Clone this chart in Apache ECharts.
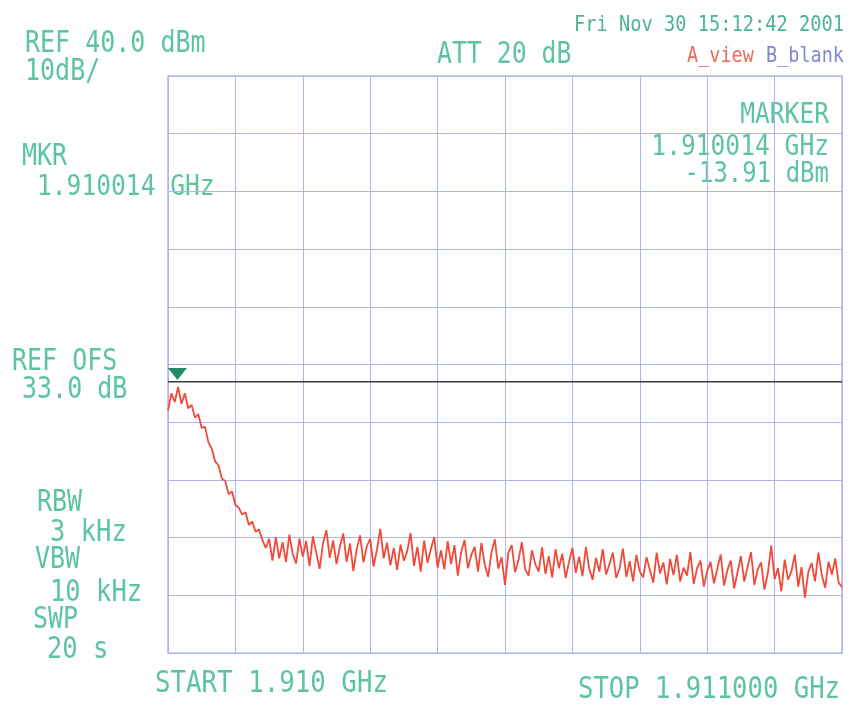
<!DOCTYPE html>
<html>
<head>
<meta charset="utf-8">
<script src="https://cdn.jsdelivr.net/npm/echarts@6/dist/echarts.min.js"></script>
<style>
html,body{margin:0;padding:0;background:#fff;}
#chart{width:850px;height:706px;}
</style>
</head>
<body>
<div id="chart"></div>
<script>
// ---- instrument settings ----
const START_KHZ = 0;          // offset from 1.910 GHz
const STOP_KHZ = 1000;        // 1.911000 GHz
const STEP_KHZ = 5;
const REF_LEVEL = 40;         // dBm (top of screen)
const DB_PER_DIV = 10;
const BOTTOM_LEVEL = -60;
const LIMIT_LEVEL = -13;      // display / limit line, dBm
const MARKER_KHZ = 14;
const MARKER_DBM = -13.91;

// ---- trace A (dBm), one value per sweep point ----
const traceA = [
  -18.0, -15.0, -16.5, -13.9, -16.8, -15.0, -17.6, -17.0, -19.2, -18.6,
  -21.0, -20.8, -23.5, -24.6, -26.8, -27.5, -29.8, -30.2, -32.5, -32.0,
  -34.3, -34.8, -36.0, -35.6, -37.8, -37.2, -39.0, -38.6, -40.4, -41.8,
  -40.2,
  -44.0, -39.9, -43.6, -40.8, -44.2, -39.5, -42.8, -44.5, -40.2, -43.3,
  -40.6, -44.9, -39.8, -42.6, -45.4, -41.0, -38.7, -43.5, -40.5, -44.6,
  -41.6, -39.3, -44.2, -41.0, -45.8, -42.0, -39.6, -44.3, -41.5, -40.2,
  -45.0, -42.1, -38.5, -43.6, -40.9, -44.8, -41.8, -45.6, -41.2, -44.0,
  -42.3, -39.2, -44.9, -41.6, -45.9, -40.5, -44.4, -42.0, -39.9, -45.2,
  -42.2, -45.5, -40.6, -44.6, -41.3, -46.6, -42.5, -40.4, -45.3, -43.0,
  -41.6, -45.9, -40.9, -44.7, -46.8, -42.5, -40.3, -45.4, -43.4, -48.2,
  -42.6, -41.3, -46.0, -43.9, -40.8, -45.5, -46.6, -42.2, -44.6, -45.9,
  -41.7, -46.3, -43.2, -46.9, -42.0, -45.3, -42.8, -47.0, -44.2, -41.8,
  -46.1, -43.3, -46.7, -41.6, -45.4, -47.3, -43.5, -45.9, -42.0, -46.4,
  -44.6, -42.6, -47.0, -45.3, -41.9, -46.8, -44.1, -47.6, -43.0, -45.9,
  -46.9, -43.4, -45.6, -47.8, -42.6, -46.2, -44.3, -48.1, -43.7, -46.5,
  -43.0, -47.6, -45.2, -46.6, -42.5, -48.0, -45.3, -44.0, -48.5, -45.8,
  -44.2, -47.9, -45.4, -42.9, -48.3, -45.6, -44.0, -48.8, -46.0, -43.2,
  -47.6, -45.1, -42.5, -48.2, -45.5, -44.3, -49.0, -46.1, -41.4, -47.2,
  -45.3, -49.3, -43.8, -47.3, -45.8, -42.9, -48.5, -45.1, -50.4, -46.0,
  -44.4, -47.6, -42.6, -46.5, -48.7, -44.2, -46.4, -43.6, -47.8, -48.6
];

// ---- screen annotations ----
const leftTexts = [
  ['REF 40.0 dBm', 25, 44, 25],
  ['10dB/', 25, 72, 25],
  ['MKR', 22, 157, 25],
  ['1.910014 GHz', 37, 187, 24.6],
  ['REF OFS', 12, 362, 25],
  ['33.0 dB', 22, 390, 25],
  ['RBW', 37, 503, 25],
  ['3 kHz', 50, 533, 25.5],
  ['VBW', 35, 560, 25],
  ['10 kHz', 50, 593, 25.5],
  ['SWP', 33, 620, 25],
  ['20 s', 47, 650, 25.5],
  ['START 1.910 GHz', 155, 684, 25.8],
  ['STOP 1.911000 GHz', 578, 690, 25.6],
  ['ATT 20 dB', 437, 55, 24.8]
];
const markerTexts = ['MARKER', '1.910014 GHz', '-13.91 dBm'];
const dateText = 'Fri Nov 30 15:12:42 2001';
const traceLabels = ['A_view', 'B_blank'];

// ---- build ----
const traceData = traceA.map((v, i) => [START_KHZ + i * STEP_KHZ, v]);
const limitData = [[START_KHZ, LIMIT_LEVEL], [STOP_KHZ, LIMIT_LEVEL]];

const GREEN = '#5cc4a0';
const FONT = '"DejaVu Sans Mono", "Liberation Mono", monospace';

function txt(s, x, y, opts) {
  opts = opts || {};
  return {
    type: 'text',
    x: x, y: y,
    scaleY: opts.scaleY || 1.18,
    style: {
      text: s,
      fill: opts.color || GREEN,
      font: (opts.size || 25) + 'px ' + FONT,
      textAlign: opts.align || 'left',
      textVerticalAlign: 'middle'
    },
    silent: true
  };
}

const graphics = leftTexts.map(t => txt(t[0], t[1], t[2], {size: t[3]}));
graphics.push(txt(markerTexts[0], 829, 115, {align: 'right', size: 24.6}));
graphics.push(txt(markerTexts[1], 829, 147, {align: 'right', size: 24.6}));
graphics.push(txt(markerTexts[2], 829, 175, {align: 'right', size: 24}));
graphics.push(txt(dateText, 844, 25, {align: 'right', size: 18.7, color: '#4cb48f'}));
graphics.push(txt(traceLabels[0], 687, 56, {size: 18.5, color: '#ef6a5a'}));
graphics.push(txt(traceLabels[1], 766, 56, {size: 18.5, color: '#7f88da'}));

const chart = echarts.init(document.getElementById('chart'), null, {renderer: 'canvas'});
chart.setOption({
  animation: false,
  backgroundColor: '#ffffff',
  grid: {
    left: 168, top: 76, width: 674, height: 577,
    show: true, borderColor: '#9ea4e0', borderWidth: 1.2, backgroundColor: 'transparent'
  },
  xAxis: {
    type: 'value', min: START_KHZ, max: STOP_KHZ, interval: 100,
    axisLine: {show: false}, axisTick: {show: false}, axisLabel: {show: false},
    splitLine: {show: true, lineStyle: {color: '#b0b5e8', width: 1}}
  },
  yAxis: {
    type: 'value', min: BOTTOM_LEVEL, max: REF_LEVEL, interval: DB_PER_DIV,
    axisLine: {show: false}, axisTick: {show: false}, axisLabel: {show: false},
    splitLine: {show: true, lineStyle: {color: '#b0b5e8', width: 1}}
  },
  series: [
    {
      name: 'limit', type: 'line', data: limitData, symbol: 'none',
      lineStyle: {color: '#3b3b3b', width: 1.6}, z: 2
    },
    {
      name: 'A_view', type: 'line', data: traceData, symbol: 'none',
      lineStyle: {color: '#f04a3a', width: 1.8}, z: 3,
      markPoint: {
        symbol: 'triangle', symbolRotate: 180, symbolSize: [19, 12],
        symbolOffset: [0, -13],
        itemStyle: {color: '#23896a'},
        label: {show: false},
        data: [{coord: [MARKER_KHZ, MARKER_DBM]}]
      }
    }
  ],
  graphic: graphics
});
</script>
</body>
</html>
